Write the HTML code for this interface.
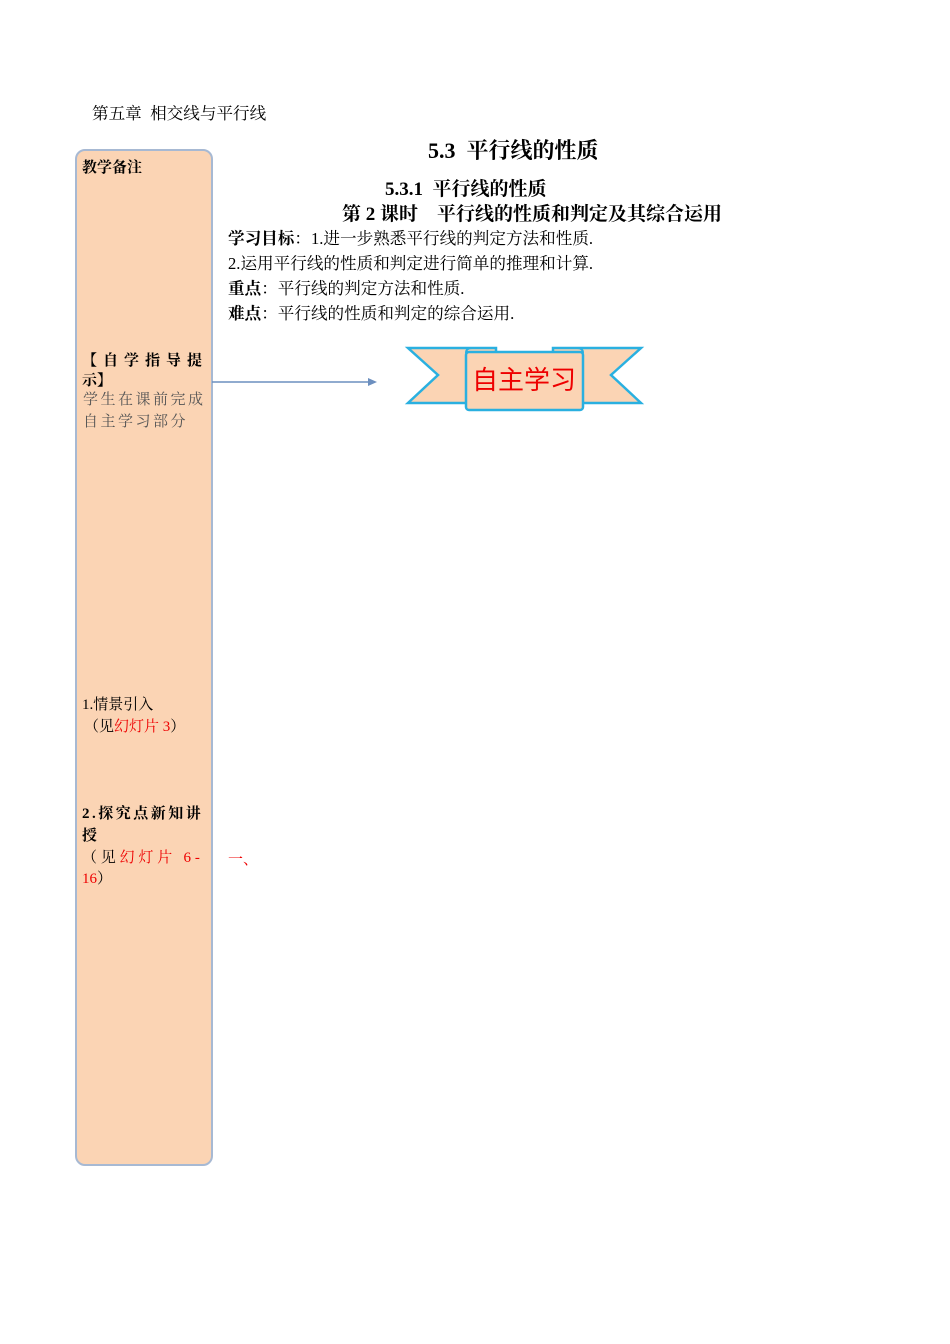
<!DOCTYPE html>
<html><head><meta charset="utf-8"><style>
body{margin:0;width:950px;height:1344px;background:#fff;position:relative;font-family:"Liberation Serif","Noto Serif CJK SC",serif;color:#000}
.a{position:absolute;white-space:nowrap}
.b{font-weight:bold}
.r{color:#e00}
.s{font-size:15px}
.m{font-size:16.6px}
</style></head><body>
<div class="a m" style="left:92px;top:100px">第五章&nbsp; 相交线与平行线</div>
<div style="position:absolute;left:75px;top:149px;width:134px;height:1013px;background:#fbd4b4;border:2px solid #a7b9d3;border-radius:10px"></div>
<div class="a b s" style="left:82px;top:156px">教学备注</div>
<div class="a b" style="left:428px;top:134px;font-size:22px">5.3&nbsp; 平行线的性质</div>
<div class="a b" style="left:385px;top:174px;font-size:19px">5.3.1&nbsp; 平行线的性质</div>
<div class="a b" style="left:342px;top:199px;font-size:19px">第 2 课时&nbsp;&nbsp;&nbsp; 平行线的性质和判定及其综合运用</div>
<div class="a m" style="left:228px;top:225px"><b>学习目标</b>：1.进一步熟悉平行线的判定方法和性质.</div>
<div class="a m" style="left:228px;top:250px">2.运用平行线的性质和判定进行简单的推理和计算.</div>
<div class="a m" style="left:228px;top:275px"><b>重点</b>：平行线的判定方法和性质.</div>
<div class="a m" style="left:228px;top:300px"><b>难点</b>：平行线的性质和判定的综合运用.</div>
<div class="a b s" style="left:82px;top:349px;letter-spacing:6px">【自学指导提</div>
<div class="a b s" style="left:82px;top:369px">示】</div>
<div class="a s" style="left:83px;top:388px;color:#555;letter-spacing:2.5px">学生在课前完成</div>
<div class="a s" style="left:83px;top:410px;color:#555;letter-spacing:2.5px">自主学习部分</div>
<svg style="position:absolute;left:0;top:0" width="950" height="1344">
<line x1="212" y1="382" x2="370" y2="382" stroke="#6c8fbf" stroke-width="1.5"/>
<polygon points="377,382 368,378 368,386" fill="#6c8fbf"/>
<polygon points="408,348 496,348 496,403 408,403 438,375" fill="#fbd4b4" stroke="#2ab0e0" stroke-width="2.5"/>
<polygon points="553,348 641,348 611,375 641,403 553,403" fill="#fbd4b4" stroke="#2ab0e0" stroke-width="2.5"/>
<rect x="466" y="352" width="117" height="58" rx="3" fill="#fbd4b4" stroke="#2ab0e0" stroke-width="2.5"/>
<path d="M466,353 Q466,348 472,348 L496,348 M583,353 Q583,348 577,348 L553,348" fill="none" stroke="#2ab0e0" stroke-width="2"/>
<text x="524" y="389" text-anchor="middle" font-size="26" fill="#e00" font-family="Noto Sans CJK SC,sans-serif">自主学习</text>
</svg>
<div class="a s" style="left:82px;top:693px">1.情景引入</div>
<div class="a s" style="left:84px;top:715px">（见<span class="r">幻灯片 3</span>）</div>
<div class="a b s" style="left:82px;top:802px;letter-spacing:2.5px">2.探究点新知讲</div>
<div class="a b s" style="left:82px;top:824px">授</div>
<div class="a s" style="left:82px;top:846px;letter-spacing:3.8px">（见<span class="r">幻灯片 6-</span></div>
<div class="a s" style="left:82px;top:867px"><span class="r">16</span>）</div>
<div class="a s r" style="left:228px;top:848px">一、</div>
</body></html>
